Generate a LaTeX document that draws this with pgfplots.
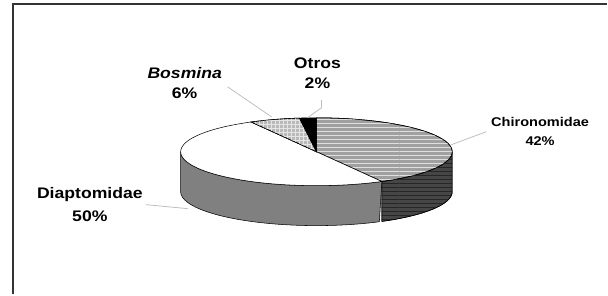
\documentclass[border=0pt]{standalone}
\usepackage{pgfplots}
\pgfplotsset{compat=1.18}
\usetikzlibrary{patterns}
\usepackage{fontspec}
\setmainfont{Liberation Sans}[FakeStretch=1.15]
\definecolor{chitop}{RGB}{160,160,160}
\definecolor{chiside}{RGB}{70,70,70}
\definecolor{diaside}{RGB}{128,128,128}
\definecolor{bostop}{RGB}{185,185,185}
\definecolor{leader}{RGB}{190,190,190}
\begin{document}
\begin{tikzpicture}
% data (percent)
\def\vChi{42}\def\vDia{50}\def\vBos{6}\def\vOtr{2}
\pgfmathsetmacro\aA{90-3.6*\vChi}
\pgfmathsetmacro\aB{\aA-3.6*\vDia}
\pgfmathsetmacro\aC{\aB-3.6*\vBos}
\pgfmathsetmacro\aD{\aC-3.6*\vOtr}
\def\cx{317}\def\cy{152}\def\ra{136}\def\rb{34}\def\dep{40}
\begin{axis}[
  scale only axis, width=456pt, height=221.25pt,
  xmin=0, xmax=608, ymin=0, ymax=295, y dir=reverse,
  hide axis, clip=false,
]
\path (axis cs:0,0) rectangle (axis cs:608,295);
% sides
\addplot[fill=chiside, draw=black, line width=0.4pt, domain=0:2, samples=201, variable=\t,
  postaction={pattern=horizontal lines, pattern color=black!85}]
  ({\cx+\ra*cos(\aA+(1-abs(1-t))*(0-\aA))},{\cy-\rb*sin(\aA+(1-abs(1-t))*(0-\aA))+\dep*(t>1.0001)}) -- cycle;
\addplot[fill=diaside, draw=black, line width=0.4pt, domain=0:2, samples=201, variable=\t]
  ({\cx+\ra*cos(-180+(1-abs(1-t))*(\aA+180))},{\cy-\rb*sin(-180+(1-abs(1-t))*(\aA+180))+\dep*(t>1.0001)}) -- cycle;
% top slices
\addplot[fill=chitop, draw=black, line width=0.4pt, domain=\aA:90, samples=80, variable=\t,
  postaction={pattern=horizontal lines, pattern color=white!75!gray}]
  ({\cx+\ra*cos(t)},{\cy-\rb*sin(t)}) -- (axis cs:\cx,\cy) -- cycle;
\addplot[fill=white, draw=black, line width=0.4pt, domain=\aB:\aA, samples=90, variable=\t]
  ({\cx+\ra*cos(t)},{\cy-\rb*sin(t)}) -- (axis cs:\cx,\cy) -- cycle;
\addplot[fill=bostop, draw=black, line width=0.4pt, domain=\aC:\aB, samples=20, variable=\t,
  postaction={pattern=grid, pattern color=white!80!gray}]
  ({\cx+\ra*cos(t)},{\cy-\rb*sin(t)}) -- (axis cs:\cx,\cy) -- cycle;
\addplot[fill=black, draw=black, line width=0.4pt, domain=\aD:\aC, samples=10, variable=\t]
  ({\cx+\ra*cos(t)},{\cy-\rb*sin(t)}) -- (axis cs:\cx,\cy) -- cycle;
% leader lines
\draw[leader, line width=0.6pt] (axis cs:228,87) -- (axis cs:272,117);
\draw[leader, line width=0.6pt] (axis cs:322,100) -- (axis cs:322,108) -- (axis cs:308,118);
\draw[leader, line width=0.6pt] (axis cs:452,145) -- (axis cs:487,132);
\draw[leader, line width=0.6pt] (axis cs:146,205) -- (axis cs:188,209);
% labels
\node[align=center, font=\fontsize{11.5}{14}\selectfont\bfseries] at (axis cs:318,73) {Otros\\[1pt]2\%};
\node[align=center, font=\fontsize{11.5}{14}\selectfont\bfseries] at (axis cs:185,83) {\textit{Bosmina}\\[1pt]6\%};
\node[align=center, font=\fontsize{9.5}{12}\selectfont\bfseries] at (axis cs:541,132) {Chironomidae\\[2pt]42\%};
\node[align=center, font=\fontsize{11.5}{14}\selectfont\bfseries] at (axis cs:90,205) {Diaptomidae\\[3pt]50\%};
% frame
\draw[black!80, line width=1.6pt] (axis cs:13,295) -- (axis cs:13,4) -- (axis cs:608,4);
\end{axis}
\end{tikzpicture}
\end{document}
